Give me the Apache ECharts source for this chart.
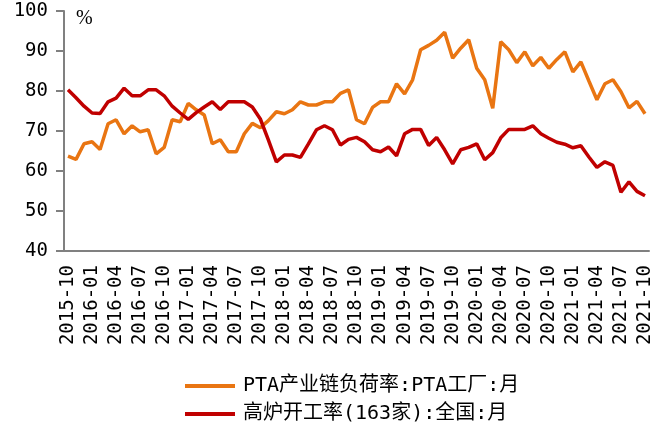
<!DOCTYPE html>
<html>
<head>
<meta charset="utf-8">
<script src="https://cdn.jsdelivr.net/npm/echarts@6/dist/echarts.min.js"></script>
<style>
  html, body { margin: 0; padding: 0; background: #fff; }
  #main { width: 670px; height: 423px; }
</style>
</head>
<body>
<div id="main"></div>
<script>
// 月份（2015-10 到 2021-10）
var months = [
  '2015-10','2015-11','2015-12',
  '2016-01','2016-02','2016-03','2016-04','2016-05','2016-06','2016-07','2016-08','2016-09','2016-10','2016-11','2016-12',
  '2017-01','2017-02','2017-03','2017-04','2017-05','2017-06','2017-07','2017-08','2017-09','2017-10','2017-11','2017-12',
  '2018-01','2018-02','2018-03','2018-04','2018-05','2018-06','2018-07','2018-08','2018-09','2018-10','2018-11','2018-12',
  '2019-01','2019-02','2019-03','2019-04','2019-05','2019-06','2019-07','2019-08','2019-09','2019-10','2019-11','2019-12',
  '2020-01','2020-02','2020-03','2020-04','2020-05','2020-06','2020-07','2020-08','2020-09','2020-10','2020-11','2020-12',
  '2021-01','2021-02','2021-03','2021-04','2021-05','2021-06','2021-07','2021-08','2021-09','2021-10'
];

// PTA产业链负荷率:PTA工厂:月
var ptaLoad = [
  63.7, 62.9, 66.8,
  67.3, 65.4, 71.8, 72.8, 69.3, 71.3, 69.8, 70.3, 64.3, 65.9, 72.8, 72.3,
  76.9, 75.3, 74.0, 66.8, 67.8, 64.8, 64.8, 69.3, 71.9, 70.8, 72.6, 74.8,
  74.3, 75.3, 77.3, 76.5, 76.5, 77.3, 77.3, 79.4, 80.3, 72.8, 71.8, 75.9,
  77.3, 77.3, 81.8, 79.3, 82.8, 90.3, 91.4, 92.7, 94.7, 88.2, 90.7, 92.8,
  85.7, 82.8, 75.7, 92.3, 90.3, 87.1, 89.8, 86.3, 88.4, 85.7, 87.9, 89.8,
  84.8, 87.3, 82.5, 77.8, 81.8, 82.8, 79.8, 75.8, 77.4, 74.3
];

// 高炉开工率(163家):全国:月
var blastFurnace = [
  80.3, 78.3, 76.2,
  74.5, 74.4, 77.3, 78.2, 80.7, 78.8, 78.8, 80.3, 80.3, 78.8, 76.2, 74.5,
  72.9, 74.6, 76.0, 77.3, 75.4, 77.3, 77.3, 77.3, 76.0, 73.0, 67.8, 62.3,
  64.0, 64.0, 63.4, 66.8, 70.3, 71.3, 70.3, 66.5, 67.9, 68.4, 67.3, 65.3,
  64.8, 66.0, 63.8, 69.3, 70.4, 70.4, 66.4, 68.4, 65.3, 61.8, 65.3, 65.9,
  66.8, 62.8, 64.6, 68.3, 70.4, 70.4, 70.4, 71.3, 69.3, 68.2, 67.2, 66.7,
  65.8, 66.3, 63.5, 60.9, 62.3, 61.4, 54.7, 57.3, 54.9, 53.8
];

var seriesNames = ['PTA产业链负荷率:PTA工厂:月', '高炉开工率(163家):全国:月'];
var yTicks = { min: 40, max: 100, step: 10 };

var monoFont = "'DejaVu Sans Mono', monospace";
var legendFont = "'DejaVu Sans Mono', 'Noto Sans CJK SC', sans-serif";
var chart = echarts.init(document.getElementById('main'));

// 图例：两行，每行一个
function legendRow(name, top) {
  return {
    left: 180,
    top: top,
    itemWidth: 50,
    itemHeight: 4,
    icon: 'rect',
    textStyle: { fontSize: 20, fontFamily: legendFont, color: '#000', padding: [0, 0, 0, 3] },
    data: [name]
  };
}

chart.setOption({
  animation: false,
  grid: { left: 64, right: 21, top: 11, bottom: 172, containLabel: false },
  graphic: [{
    type: 'text',
    left: 76,
    top: 9,
    style: { text: '%', fontSize: 20, fontFamily: "'Liberation Serif', serif", fill: '#000' }
  }],
  legend: [legendRow(seriesNames[0], 371), legendRow(seriesNames[1], 399)],
  xAxis: {
    type: 'category',
    data: months,
    boundaryGap: true,
    axisLine: { lineStyle: { color: '#808080', width: 2 } },
    axisTick: { show: false },
    axisLabel: {
      interval: 2,
      rotate: 90,
      margin: 14,
      fontSize: 19,
      fontFamily: monoFont,
      color: '#000',
      padding: [7, 0, 0, 0]
    },
    splitLine: { show: false }
  },
  yAxis: {
    type: 'value',
    min: yTicks.min,
    max: yTicks.max,
    interval: yTicks.step,
    axisLine: { show: true, lineStyle: { color: '#808080', width: 2 } },
    axisTick: { show: true, length: 8, lineStyle: { color: '#808080', width: 2 } },
    axisLabel: { margin: 16, fontSize: 19, fontFamily: monoFont, color: '#000' },
    splitLine: { show: false }
  },
  series: [
    {
      name: seriesNames[0],
      type: 'line',
      data: ptaLoad,
      symbol: 'none',
      lineStyle: { color: '#E97512', width: 3.5 },
      itemStyle: { color: '#E97512' }
    },
    {
      name: seriesNames[1],
      type: 'line',
      data: blastFurnace,
      symbol: 'none',
      lineStyle: { color: '#C00000', width: 3.5 },
      itemStyle: { color: '#C00000' }
    }
  ]
});
</script>
</body>
</html>
